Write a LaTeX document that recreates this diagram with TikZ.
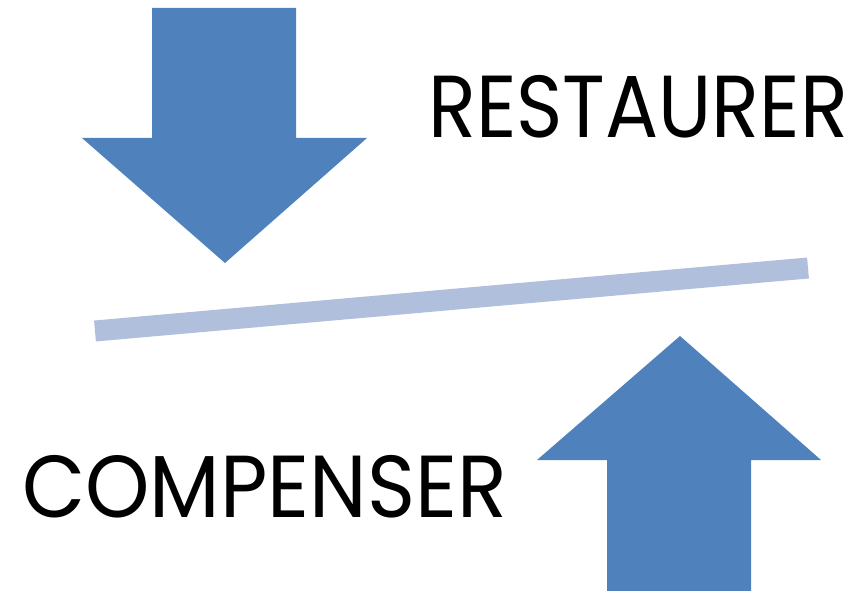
\documentclass[tikz,border=0pt]{standalone}
\usepackage{fontspec}
\setmainfont{Poppins}
\usepackage{xcolor}
\usepackage{graphicx}
\usetikzlibrary{positioning}
\definecolor{arrowblue}{RGB}{79,129,189}
\definecolor{barblue}{RGB}{176,191,220}
\tikzstyle{bigarrow} = [fill=arrowblue, draw=none]
\tikzstyle{balance} = [draw=barblue, line width=21pt]
\tikzstyle{word} = [anchor=base west, inner sep=0pt, font=\fontsize{88}{88}\selectfont]

\begin{document}
\begin{tikzpicture}[x=1pt, y=-1pt]
                \useasboundingbox (0,0) rectangle (862,591);

% ---------------------------------------------
% Down arrow (top left)
% ---------------------------------------------
                \fill [bigarrow] (152,8) -- (296,8) -- (296,138) -- (367,138)
                    -- (225,263) -- (82,138) -- (152,138) -- cycle;

% ---------------------------------------------
% Tilted bar
% ---------------------------------------------
                \coordinate (bar_left) at (95,331);
                \coordinate (bar_right) at (808,268);
                \draw [balance] (bar_left) -- (bar_right);

% ---------------------------------------------
% Up arrow (bottom right)
% ---------------------------------------------
                \fill [bigarrow] (607,591) -- (751,591) -- (751,460) -- (821,460)
                    -- (680,336) -- (537,460) -- (607,460) -- cycle;

% ---------------------------------------------
% Words
% ---------------------------------------------
                \node (restaurer) [word] at (428,137) {\resizebox{420pt}{\height}{RESTAURER}};
                \node (compenser) [word] at (22,517) {\resizebox{485pt}{\height}{COMPENSER}};

\end{tikzpicture}
\end{document}
